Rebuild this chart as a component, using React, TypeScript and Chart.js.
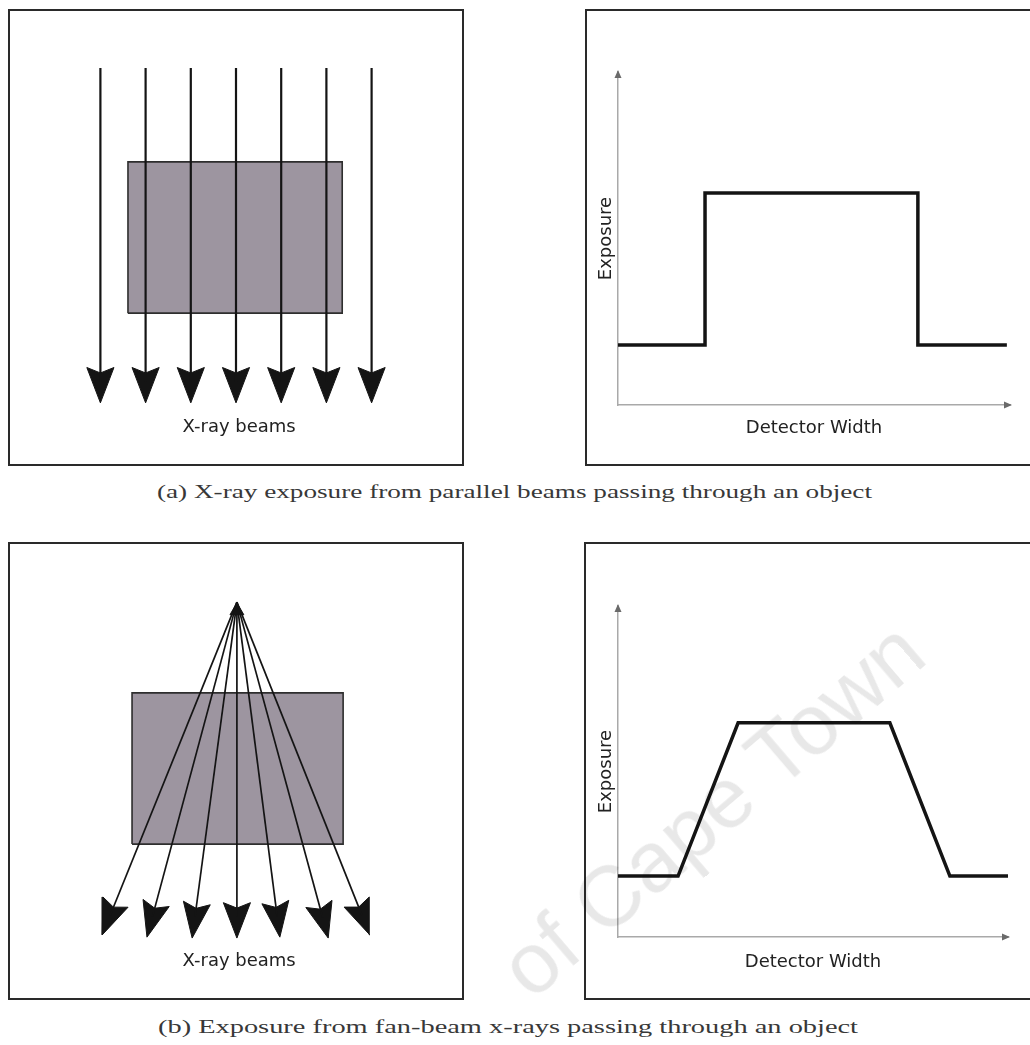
import React, { useEffect, useLayoutEffect, useRef } from "react";
import { Chart, registerables } from "chart.js";

Chart.register(...registerables);

// ---------------- data ----------------
// (a) parallel-beam diagram, in diagram units (0–10 across and up)
const parallelBeamX = [2, 3, 4, 5, 6, 7, 8];
const parallelBeamTopY = 8.74;
const parallelBeamTipY = 1.35;
const parallelObjectX = [2.61, 7.35];
const parallelObjectY = [3.33, 6.67];

// (b) fan-beam diagram
const fanSource = [5.02, 8.72];
const fanTipX = [2.04, 3.03, 4.03, 5.02, 5.97, 7.04, 7.96];
const fanTipY = [1.39, 1.34, 1.32, 1.32, 1.34, 1.32, 1.39];
const fanObjectX = [2.7, 7.37];
const fanObjectY = [3.39, 6.72];

const beamLabel = "X-ray beams";
const beamLabelPos = [5.07, 0.8];

// exposure profiles across the detector
const parallelDetectorX = [0, 2.22, 2.22, 7.65, 7.65, 9.92];
const parallelExposure = [1.8, 1.8, 6.37, 6.37, 1.8, 1.8];
const fanDetectorX = [0, 1.54, 3.08, 6.97, 8.51, 10];
const fanExposure = [1.84, 1.84, 6.47, 6.47, 1.84, 1.84];

const axisRange = [0, 10];
const xAxisTitle = "Detector Width";
const yAxisTitle = "Exposure";
const captionA = "(a) X-ray exposure from parallel beams passing through an object";
const captionB = "(b) Exposure from fan-beam x-rays passing through an object";
const watermarkText = "of Cape Town";

// ---------------- styles ----------------
const INK = "#141414";
const TEXT = "#222";
const AXIS = "#a9a9a9";
const OBJECT_FILL = "#9d95a0";
const SANS = '"DejaVu Sans", Verdana, sans-serif';
const HEAD_LEN = 0.78;
const HEAD_HALF = 0.3;
const HEAD_NOTCH = 0.12;

type P = { x: number; y: number };

function arrow(fx: number, fy: number, tx: number, ty: number) {
  const dx = tx - fx;
  const dy = ty - fy;
  const L = Math.hypot(dx, dy);
  const ux = dx / L;
  const uy = dy / L;
  const px = -uy;
  const py = ux;
  const bx = tx - ux * HEAD_LEN;
  const by = ty - uy * HEAD_LEN;
  const nx = tx - ux * (HEAD_LEN - HEAD_NOTCH);
  const ny = ty - uy * (HEAD_LEN - HEAD_NOTCH);
  const head: P[] = [
    { x: tx, y: ty },
    { x: bx + px * HEAD_HALF, y: by + py * HEAD_HALF },
    { x: nx, y: ny },
    { x: bx - px * HEAD_HALF, y: by - py * HEAD_HALF },
    { x: tx, y: ty },
  ];
  const shaft: P[] = [
    { x: fx, y: fy },
    { x: tx - ux * HEAD_LEN * 0.6, y: ty - uy * HEAD_LEN * 0.6 },
  ];
  return { head, shaft };
}

function rectPoints(xs: number[], ys: number[]): P[] {
  return [
    { x: xs[0], y: ys[0] },
    { x: xs[1], y: ys[0] },
    { x: xs[1], y: ys[1] },
    { x: xs[0], y: ys[1] },
    { x: xs[0], y: ys[0] },
  ];
}

const labelPlugin = {
  id: "beamLabel",
  afterDatasetsDraw(chart: any) {
    const { ctx, scales } = chart;
    ctx.save();
    ctx.font = `18px ${SANS}`;
    ctx.fillStyle = TEXT;
    ctx.textAlign = "center";
    ctx.textBaseline = "middle";
    ctx.fillText(
      beamLabel,
      scales.x.getPixelForValue(beamLabelPos[0]),
      scales.y.getPixelForValue(beamLabelPos[1])
    );
    ctx.restore();
  },
};

const axisArrows = {
  id: "axisArrows",
  afterDraw(chart: any) {
    const { ctx, chartArea } = chart;
    const { left, top, right, bottom } = chartArea;
    ctx.save();
    ctx.fillStyle = "#6a6a6a";
    ctx.beginPath();
    ctx.moveTo(left, top - 2);
    ctx.lineTo(left - 3.5, top + 6);
    ctx.lineTo(left + 3.5, top + 6);
    ctx.closePath();
    ctx.fill();
    ctx.beginPath();
    ctx.moveTo(right + 2, bottom);
    ctx.lineTo(right - 6, bottom - 3.5);
    ctx.lineTo(right - 6, bottom + 3.5);
    ctx.closePath();
    ctx.fill();
    ctx.restore();
  },
};

function diagramConfig(
  beams: { fx: number; fy: number; tx: number; ty: number }[],
  objX: number[],
  objY: number[],
  source: number[] | null
): any {
  const datasets: any[] = [];
  beams.forEach((b) => {
    const { head, shaft } = arrow(b.fx, b.fy, b.tx, b.ty);
    datasets.push({
      data: shaft,
      borderColor: INK,
      borderWidth: source ? 1.7 : 2.2,
      fill: false,
      order: 1,
    });
    datasets.push({
      data: head,
      borderColor: INK,
      borderWidth: 1,
      borderJoinStyle: "miter",
      backgroundColor: INK,
      fill: "shape",
      order: 1,
    });
  });
  if (source) {
    datasets.push({
      data: [{ x: source[0], y: source[1] - 0.19 }],
      showLine: false,
      pointRadius: 8,
      pointStyle: "triangle",
      pointBackgroundColor: INK,
      pointBorderColor: INK,
      pointBorderWidth: 1,
      order: 0,
    });
  }
  datasets.push({
    data: rectPoints(objX, objY),
    fill: "shape",
    backgroundColor: OBJECT_FILL,
    borderColor: "#2e2e2e",
    borderWidth: 1.6,
    borderJoinStyle: "miter",
    order: 2,
  });
  return {
    type: "line",
    data: { datasets },
    options: {
      responsive: false,
      animation: false,
      events: [],
      layout: { padding: 0, autoPadding: false },
      elements: { point: { radius: 0 }, line: { tension: 0 } },
      plugins: { legend: { display: false }, tooltip: { enabled: false } },
      scales: {
        x: { type: "linear", display: false, min: 0, max: 10 },
        y: { type: "linear", display: false, min: 0, max: 10 },
      },
    },
    plugins: [labelPlugin],
  };
}

function profileConfig(
  xs: number[],
  ys: number[],
  padding: { left: number; top: number; right: number; bottom: number },
  xTitlePadTop: number
): any {
  const titleFont = { family: SANS, size: 18 };
  return {
    type: "line",
    data: {
      datasets: [
        {
          data: xs.map((x, i) => ({ x, y: ys[i] })),
          borderColor: INK,
          borderWidth: 3.5,
          borderJoinStyle: "miter",
          pointRadius: 0,
          fill: false,
          tension: 0,
        },
      ],
    },
    options: {
      responsive: false,
      animation: false,
      events: [],
      layout: { padding, autoPadding: false },
      plugins: { legend: { display: false }, tooltip: { enabled: false } },
      scales: {
        x: {
          type: "linear",
          min: axisRange[0],
          max: axisRange[1],
          grid: { display: false, drawTicks: false },
          ticks: { display: false },
          border: { display: true, color: AXIS, width: 1.5 },
          title: {
            display: true,
            text: xAxisTitle,
            color: TEXT,
            font: titleFont,
            padding: { top: xTitlePadTop, bottom: 0 },
          },
        },
        y: {
          type: "linear",
          min: axisRange[0],
          max: axisRange[1],
          grid: { display: false, drawTicks: false },
          ticks: { display: false },
          border: { display: true, color: AXIS, width: 1.5 },
          title: {
            display: true,
            text: yAxisTitle,
            color: TEXT,
            font: titleFont,
            padding: { top: 0, bottom: 1.2 },
          },
        },
      },
    },
    plugins: [axisArrows],
  };
}

function ChartCanvas({ make, width, height }: { make: () => any; width: number; height: number }) {
  const ref = useRef<HTMLCanvasElement>(null);
  useEffect(() => {
    const chart = new Chart(ref.current as HTMLCanvasElement, make());
    return () => chart.destroy();
  }, []);
  return (
    <canvas
      ref={ref}
      width={width}
      height={height}
      style={{ position: "absolute", left: 0, top: 0, width, height, display: "block" }}
    />
  );
}

function Panel({ left, top, width, height, children }: any) {
  return (
    <div
      style={{
        position: "absolute",
        left,
        top,
        width,
        height,
        boxSizing: "border-box",
        border: "2px solid #2a2a2a",
        background: "#fff",
      }}
    >
      {children}
    </div>
  );
}

function Caption({ text, left, top, targetWidth }: { text: string; left: number; top: number; targetWidth: number }) {
  const ref = useRef<HTMLSpanElement>(null);
  useLayoutEffect(() => {
    const el = ref.current as HTMLSpanElement;
    el.style.transform = "none";
    const w = el.getBoundingClientRect().width;
    el.style.transform = `scaleX(${targetWidth / w})`;
  }, []);
  return (
    <span
      ref={ref}
      style={{
        position: "absolute",
        left,
        top,
        display: "inline-block",
        font: '18px "Liberation Serif", "Times New Roman", serif',
        lineHeight: "20px",
        color: "#383838",
        whiteSpace: "nowrap",
        transformOrigin: "0 50%",
      }}
    >
      {text}
    </span>
  );
}

export default function App() {
  const parallelBeams = parallelBeamX.map((x) => ({ fx: x, fy: parallelBeamTopY, tx: x, ty: parallelBeamTipY }));
  const fanBeams = fanTipX.map((x, i) => ({ fx: fanSource[0], fy: fanSource[1], tx: x, ty: fanTipY[i] }));
  return (
    <div
      style={{
        position: "fixed",
        left: 0,
        top: 0,
        width: 1030,
        height: 1045,
        overflow: "hidden",
        background: "#fff",
      }}
    >
      <Panel left={8} top={9} width={456} height={457}>
        <ChartCanvas
          width={452}
          height={453}
          make={() => diagramConfig(parallelBeams, parallelObjectX, parallelObjectY, null)}
        />
      </Panel>
      <Panel left={585} top={9} width={460} height={457}>
        <ChartCanvas
          width={456}
          height={453}
          make={() =>
            profileConfig(parallelDetectorX, parallelExposure, { left: 8.2, top: 61, right: 33, bottom: 25.2 }, 12.2)
          }
        />
      </Panel>
      <Panel left={8} top={542} width={456} height={458}>
        <ChartCanvas
          width={452}
          height={454}
          make={() => diagramConfig(fanBeams, fanObjectX, fanObjectY, fanSource)}
        />
      </Panel>
      <Panel left={584} top={542} width={460} height={458}>
        <ChartCanvas
          width={456}
          height={454}
          make={() => profileConfig(fanDetectorX, fanExposure, { left: 9.2, top: 62, right: 34, bottom: 25.2 }, 14.2)}
        />
      </Panel>
      <Caption text={captionA} left={157} top={482} targetWidth={715} />
      <Caption text={captionB} left={158} top={1017} targetWidth={700} />
      <div
        style={{
          position: "absolute",
          left: 484,
          top: 946,
          fontFamily: '"Liberation Sans", Arial, sans-serif',
          fontSize: 86,
          lineHeight: 1,
          color: "rgba(0,0,0,0.09)",
          whiteSpace: "nowrap",
          transform: "rotate(-40.5deg)",
          transformOrigin: "0 0",
          pointerEvents: "none",
        }}
      >
        {watermarkText}
      </div>
    </div>
  );
}
